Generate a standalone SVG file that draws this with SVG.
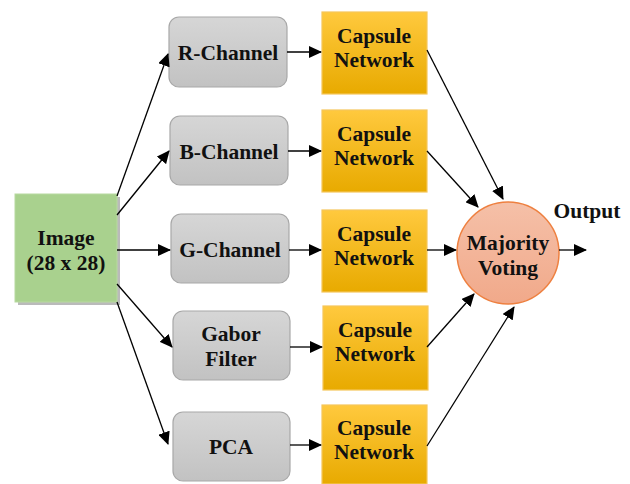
<svg xmlns="http://www.w3.org/2000/svg" width="630" height="484" viewBox="0 0 630 484">
<style>
.t{font-family:"Liberation Serif","Times New Roman",serif;font-weight:bold;font-size:21.5px;fill:#111;text-anchor:middle}
.gray{fill:url(#gg);stroke:#a8a8a8;stroke-width:1.2}
.cap{fill:url(#yg);stroke:#f5c65a;stroke-width:1.2}
.ln{stroke:#000;stroke-width:1.3;fill:none;marker-end:url(#ah)}
</style>
<defs>
<linearGradient id="gg" x1="0" y1="0" x2="0" y2="1"><stop offset="0" stop-color="#d6d6d6"/><stop offset="1" stop-color="#c2c2c2"/></linearGradient>
<linearGradient id="yg" x1="0" y1="0" x2="0" y2="1"><stop offset="0" stop-color="#ffc93e"/><stop offset="1" stop-color="#e8aa00"/></linearGradient>
<linearGradient id="og" x1="0" y1="0" x2="0" y2="1"><stop offset="0" stop-color="#f5c0a8"/><stop offset="1" stop-color="#f1a98a"/></linearGradient>
<marker id="ah" markerWidth="13" markerHeight="12" refX="12" refY="6" orient="auto" markerUnits="userSpaceOnUse"><path d="M0,0 L13,6 L0,12 z" fill="#000"/></marker>
</defs>
<g id="image">
<rect x="18" y="197" width="102" height="108" fill="#8c8c8c" opacity="0.6"/>
<rect x="15" y="194" width="102" height="108" fill="#a9d18e" stroke="#b8d9a0" stroke-width="1"/>
<text class="t" x="66" y="245">Image</text>
<text class="t" x="66" y="270">(28 x 28)</text>
</g>
<g id="r-channel"><rect class="gray" x="169" y="17" width="118" height="70" rx="10"/><text class="t" x="228" y="60">R-Channel</text></g>
<g id="b-channel"><rect class="gray" x="170" y="116" width="118" height="69" rx="10"/><text class="t" x="229" y="159">B-Channel</text></g>
<g id="g-channel"><rect class="gray" x="171" y="214" width="118" height="69" rx="10"/><text class="t" x="230" y="257">G-Channel</text></g>
<g id="gabor"><rect class="gray" x="173" y="311" width="117" height="69" rx="10"/><text class="t" x="231" y="341">Gabor</text><text class="t" x="231" y="366">Filter</text></g>
<g id="pca"><rect class="gray" x="173" y="412" width="117" height="69" rx="10"/><text class="t" x="231" y="454">PCA</text></g>
<g id="capsule1"><rect class="cap" x="322" y="12" width="105" height="82"/><text class="t" x="374" y="43">Capsule</text><text class="t" x="374" y="67">Network</text></g>
<g id="capsule2"><rect class="cap" x="322" y="110" width="105" height="82"/><text class="t" x="374" y="141">Capsule</text><text class="t" x="374" y="165">Network</text></g>
<g id="capsule3"><rect class="cap" x="322" y="210" width="105" height="82"/><text class="t" x="374" y="241">Capsule</text><text class="t" x="374" y="265">Network</text></g>
<g id="capsule4"><rect class="cap" x="323" y="306" width="105" height="84"/><text class="t" x="375" y="337">Capsule</text><text class="t" x="375" y="361">Network</text></g>
<g id="capsule5"><rect class="cap" x="322" y="405" width="105" height="79"/><text class="t" x="374" y="435">Capsule</text><text class="t" x="374" y="459">Network</text></g>
<g id="voting"><circle cx="508" cy="253" r="51" fill="url(#og)" stroke="#ee8040" stroke-width="1.5"/><text class="t" x="508" y="250">Majority</text><text class="t" x="508" y="275">Voting</text></g>
<g id="output-label"><text class="t" x="587" y="218">Output</text></g>
<g id="connectors">
<path class="ln" d="M117,196 L168,54"/>
<path class="ln" d="M117,215 L169,151"/>
<path class="ln" d="M117,250 L170,250"/>
<path class="ln" d="M117,284 L172,347"/>
<path class="ln" d="M117,302 L168,444"/>
<path class="ln" d="M287,52 L321,52"/>
<path class="ln" d="M288,151 L321,151"/>
<path class="ln" d="M289,250 L321,250"/>
<path class="ln" d="M290,347 L322,347"/>
<path class="ln" d="M290,445 L321,445"/>
<path class="ln" d="M427,50 L503,199"/>
<path class="ln" d="M427,151 L478,207"/>
<path class="ln" d="M427,250 L456,250"/>
<path class="ln" d="M427,347 L474,294"/>
<path class="ln" d="M427,446 L514,307"/>
<path class="ln" d="M559,250 L586,250"/>
</g>
</svg>
